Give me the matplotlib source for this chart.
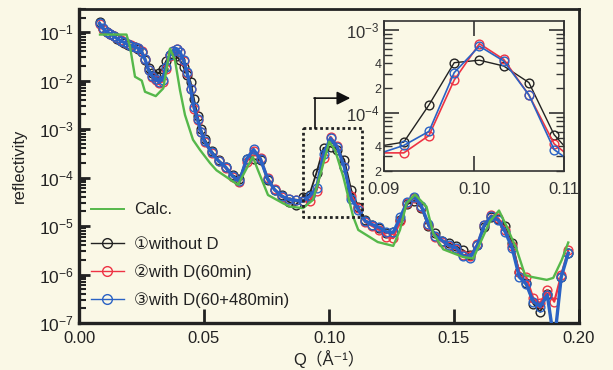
import numpy as np
import matplotlib
matplotlib.use('Agg')
import matplotlib.pyplot as plt
from matplotlib.ticker import FixedLocator, FuncFormatter, LogLocator, NullFormatter
from matplotlib.lines import Line2D

plt.rcParams['font.family'] = ['Liberation Sans', 'DejaVu Sans', 'Noto Sans CJK JP']

# ---------------- data ----------------
q_obs = [0.0082, 0.0096, 0.0110, 0.0124, 0.0138, 0.0152, 0.0166, 0.0180, 0.0194, 0.0208,
         0.0222, 0.0236, 0.0250, 0.0264, 0.0278, 0.0292, 0.0306, 0.0320, 0.0334, 0.0348,
         0.0362, 0.0376, 0.0390, 0.0404, 0.0418, 0.0432, 0.0446, 0.0460, 0.0474, 0.0488,
         0.0502, 0.0530, 0.0558, 0.0586, 0.0614, 0.0642, 0.0670, 0.0698, 0.0726, 0.0754,
         0.0782, 0.0810, 0.0838, 0.0866, 0.0894, 0.0922, 0.0950, 0.0978, 0.1006, 0.1033,
         0.1061, 0.1089, 0.1117, 0.1145, 0.1173, 0.1201, 0.1229, 0.1257, 0.1285, 0.1313,
         0.1341, 0.1369, 0.1397, 0.1425, 0.1453, 0.1481, 0.1509, 0.1537, 0.1565, 0.1593,
         0.1621, 0.1649, 0.1677, 0.1705, 0.1733, 0.1761, 0.1789, 0.1817, 0.1845, 0.1873,
         0.1901, 0.1929, 0.1957]

# log10(reflectivity)
log_r_without_d = [-0.80, -0.93, -1.00, -1.04, -1.09, -1.14, -1.19, -1.22, -1.26, -1.29,
                   -1.31, -1.34, -1.42, -1.58, -1.75, -1.85, -1.90, -1.84, -1.76, -1.60,
                   -1.47, -1.46, -1.50, -1.58, -1.72, -1.88, -2.02, -2.38, -2.72, -3.00,
                   -3.20, -3.45, -3.64, -3.78, -3.95, -4.02, -3.62, -3.62, -3.64, -4.05,
                   -4.25, -4.36, -4.50, -4.57, -4.40, -4.35, -3.90, -3.39, -3.36, -3.43,
                   -3.63, -4.26, -4.60, -4.88, -4.97, -5.05, -5.15, -5.12, -4.88, -4.55,
                   -4.48, -4.62, -5.00, -5.15, -5.30, -5.36, -5.42, -5.50, -5.60, -5.40,
                   -5.02, -4.82, -4.86, -5.00, -5.35, -5.95, -6.18, -6.60, -6.77, -6.40,
                   -7.40, -6.05, -5.55]

log_r_d60 = [-0.84, -0.93, -0.99, -1.04, -1.08, -1.12, -1.17, -1.21, -1.24, -1.27,
             -1.30, -1.32, -1.38, -1.55, -1.78, -1.92, -1.99, -2.04, -2.02, -1.76,
             -1.50, -1.39, -1.35, -1.42, -1.60, -1.84, -2.18, -2.58, -2.82, -3.07,
             -3.27, -3.50, -3.65, -3.80, -3.98, -4.10, -3.68, -3.45, -3.60, -4.00,
             -4.24, -4.40, -4.44, -4.46, -4.48, -4.48, -4.27, -3.60, -3.16, -3.35,
             -3.78, -4.37, -4.62, -4.92, -5.00, -5.08, -5.22, -5.25, -4.90, -4.52,
             -4.42, -4.60, -4.97, -5.22, -5.32, -5.42, -5.48, -5.60, -5.62, -5.38,
             -4.97, -4.78, -4.84, -5.08, -5.42, -5.95, -6.05, -6.49, -6.59, -6.32,
             -6.56, -6.01, -5.50]

log_r_d540 = [-0.82, -0.92, -0.99, -1.03, -1.08, -1.13, -1.18, -1.21, -1.25, -1.28,
              -1.30, -1.33, -1.40, -1.56, -1.78, -1.90, -1.97, -2.02, -1.98, -1.72,
              -1.48, -1.39, -1.34, -1.41, -1.58, -1.82, -2.17, -2.55, -2.80, -3.05,
              -3.25, -3.48, -3.66, -3.78, -3.97, -4.08, -3.62, -3.42, -3.62, -4.02,
              -4.25, -4.38, -4.45, -4.47, -4.49, -4.39, -4.22, -3.51, -3.19, -3.37,
              -3.78, -4.44, -4.66, -4.90, -4.97, -5.03, -5.12, -5.13, -4.82, -4.50,
              -4.40, -4.58, -4.95, -5.20, -5.30, -5.40, -5.45, -5.62, -5.65, -5.40,
              -4.98, -4.80, -4.88, -5.12, -5.46, -6.05, -6.20, -6.56, -6.66, -6.42,
              -7.40, -6.05, -5.56]

q_calc = [0.0084, 0.0190, 0.0204, 0.0224, 0.0251, 0.0264, 0.0307, 0.0337, 0.0364, 0.0384,
          0.0404, 0.0424, 0.0456, 0.0484, 0.0524, 0.0550, 0.0636, 0.0695, 0.0716, 0.0756,
          0.0816, 0.0844, 0.0896, 0.0936, 0.0970, 0.1001, 0.1024, 0.1057, 0.1077, 0.1097,
          0.1117, 0.1195, 0.1257, 0.1284, 0.1310, 0.1344, 0.1390, 0.1417, 0.1457, 0.1537,
          0.1577, 0.1610, 0.1644, 0.1680, 0.1711, 0.1751, 0.1784, 0.1811, 0.1871, 0.1897,
          0.1931, 0.1957]
log_r_calc = [-1.05, -1.05, -1.30, -1.92, -2.00, -2.23, -2.32, -2.16, -1.34, -1.58,
              -2.20, -2.71, -3.22, -3.43, -3.70, -3.85, -4.15, -3.57, -3.85, -4.36,
              -4.53, -4.60, -4.63, -4.46, -3.85, -3.26, -3.43, -3.98, -4.40, -4.81,
              -5.08, -5.33, -5.41, -5.08, -4.53, -4.35, -4.60, -5.15, -5.48, -5.64,
              -5.67, -5.29, -4.90, -4.68, -5.01, -5.49, -6.01, -6.05, -6.11, -6.07,
              -5.70, -5.34]

labels = ['Calc.', '①without D', '②with D(60min)', '③with D(60+480min)']
x_ticks = [0.00, 0.05, 0.10, 0.15, 0.20]
inset_x_ticks = [0.09, 0.10, 0.11]

# ---------------- style ----------------
bg = '#FAF8E6'
c_black = '#222222'
c_red = '#EE3344'
c_blue = '#2A62C4'
c_green = '#55B84A'

r_without = 10.0 ** np.array(log_r_without_d)
r_d60 = 10.0 ** np.array(log_r_d60)
r_d540 = 10.0 ** np.array(log_r_d540)
r_calc = 10.0 ** np.array(log_r_calc)

fig = plt.figure(figsize=(6.13, 3.70), dpi=100, facecolor=bg)
ax = fig.add_axes([79/613, 1-323/370, 500/613, 314/370], facecolor=bg)

mk = dict(marker='o', markersize=6.3, markerfacecolor='none', markeredgewidth=1.0)
ax.plot(q_obs, r_without, color=c_black, lw=1.3, markeredgecolor=c_black, zorder=3, **mk)
ax.plot(q_obs, r_d60, color=c_red, lw=1.6, markeredgecolor=c_red, zorder=4, **mk)
ax.plot(q_obs, r_d540, color=c_blue, lw=2.4, markeredgecolor=c_blue, zorder=5, **mk)
ax.plot(q_calc, r_calc, color=c_green, lw=1.7, zorder=6)

ax.set_yscale('log')
ax.set_xlim(0, 0.2)
ax.set_ylim(1e-7, 0.3)
ax.xaxis.set_major_locator(FixedLocator(x_ticks))
ax.xaxis.set_major_formatter(FuncFormatter(lambda v, p: f'{v:.2f}'))
ax.yaxis.set_major_locator(FixedLocator([1e-7, 1e-6, 1e-5, 1e-4, 1e-3, 1e-2, 1e-1]))
ax.yaxis.set_minor_locator(LogLocator(base=10, subs=np.arange(2, 10), numticks=20))
ax.yaxis.set_major_formatter(FuncFormatter(lambda v, p: r'$\mathregular{10^{%d}}$' % int(round(np.log10(v)))))
ax.yaxis.set_minor_formatter(NullFormatter())

for s in ['left', 'bottom']:
    ax.spines[s].set_linewidth(2.4)
for s in ['top', 'right']:
    ax.spines[s].set_linewidth(2.0)
for s in ax.spines.values():
    s.set_color('#222222')
ax.tick_params(axis='x', which='major', direction='in', length=10, width=2, labelsize=12,
               colors='#222222', pad=6, top=False)
ax.tick_params(axis='y', which='major', direction='in', length=8, width=2, labelsize=12.5,
               colors='#222222', right=False)
ax.tick_params(axis='y', which='minor', direction='in', length=5, width=1.5, right=False,
               colors='#222222')
ax.set_ylabel('reflectivity', fontsize=12, color='#222222', labelpad=9)
ax.set_xlabel('Q（Å⁻¹）', fontsize=12, color='#222222', labelpad=3)

# dotted zoom box and arrow
ax.plot([0.0896, 0.1133, 0.1133, 0.0896, 0.0896], [1.05e-3, 1.05e-3, 1.55e-5, 1.55e-5, 1.05e-3],
        color='#222222', lw=2.0, ls=(0, (1, 1)), zorder=7)
ax.plot([0.0944, 0.0944], [1.05e-3, 4.35e-3], color='#111111', lw=1.2, zorder=7)
ax.annotate('', xy=(0.1085, 4.35e-3), xytext=(0.0940, 4.35e-3),
            arrowprops=dict(arrowstyle='-|>', lw=1.2, color='#111111', mutation_scale=20,
                            shrinkA=0, shrinkB=0), zorder=7)

# legends
h_calc = [Line2D([], [], color=c_green, lw=1.4)]
leg1 = ax.legend(h_calc, labels[:1], loc='upper left', bbox_to_anchor=(0.0, 0.421),
                 frameon=False, fontsize=12, handlelength=2.0, handletextpad=0.6,
                 borderaxespad=0.3, labelcolor='#222222')
ax.add_artist(leg1)
h_obs = [Line2D([], [], color=c, lw=1.0, marker='o', markersize=7, markerfacecolor='none',
                markeredgecolor=c, markeredgewidth=1.0) for c in (c_black, c_red, c_blue)]
ax.legend(h_obs, labels[1:], loc='upper left', bbox_to_anchor=(0.0, 0.31),
          frameon=False, fontsize=12, handlelength=2.0, handletextpad=0.6,
          labelspacing=0.73, borderaxespad=0.3, labelcolor='#222222')

# ---------------- inset ----------------
ia = fig.add_axes([384/613, 1-171/370, 180/613, 150/370], facecolor=bg)
mk2 = dict(marker='o', markersize=6.3, markerfacecolor='none', markeredgewidth=1.0)
ia.plot(q_obs, r_without, color=c_black, lw=1.0, markeredgecolor=c_black, **mk2)
ia.plot(q_obs, r_d60, color=c_red, lw=1.2, markeredgecolor=c_red, **mk2)
ia.plot(q_obs, r_d540, color=c_blue, lw=1.2, markeredgecolor=c_blue, **mk2)
ia.set_yscale('log')
ia.set_xlim(0.09, 0.11)
ia.set_ylim(2e-5, 1.3e-3)
ia.xaxis.set_major_locator(FixedLocator(inset_x_ticks))
ia.xaxis.set_major_formatter(FuncFormatter(lambda v, p: f'{v:.2f}'))
ia.yaxis.set_major_locator(FixedLocator([1e-4, 1e-3]))
ia.yaxis.set_major_formatter(FuncFormatter(lambda v, p: r'$\mathregular{10^{-%d}}$' % int(round(-np.log10(v)))))
ia.yaxis.set_minor_locator(LogLocator(base=10, subs=np.arange(2, 10), numticks=20))

def minor_fmt(v, p):
    m = v / 10 ** np.floor(np.log10(v) + 1e-9)
    m = int(round(m))
    return str(m) if m in (2, 4) else ''

ia.yaxis.set_minor_formatter(FuncFormatter(minor_fmt))
for s in ia.spines.values():
    s.set_linewidth(1.2)
    s.set_color('#333333')
ia.tick_params(axis='both', which='major', direction='in', length=11, width=1.2,
               top=True, right=True, labelsize=12, colors='#333333')
ia.tick_params(axis='x', which='major', pad=8)
ia.tick_params(axis='y', which='minor', direction='in', length=6, width=1.0,
               right=True, labelsize=9, colors='#333333', pad=2)

fig.savefig('out.png', dpi=100, facecolor=bg)
